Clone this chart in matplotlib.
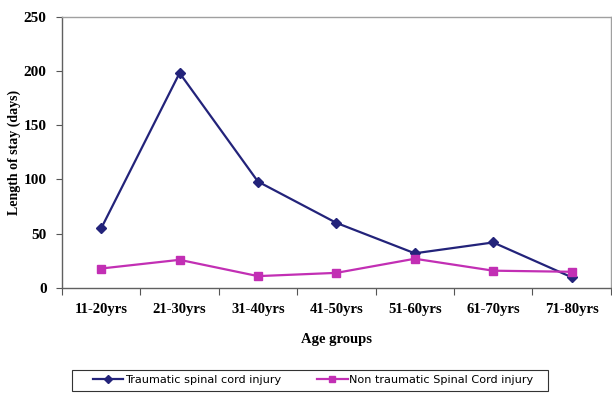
import matplotlib
matplotlib.use("Agg")
import matplotlib.pyplot as plt
from matplotlib.patches import Rectangle

AGE_GROUPS = ["11-20yrs", "21-30yrs", "31-40yrs", "41-50yrs",
              "51-60yrs", "61-70yrs", "71-80yrs"]
TRAUMATIC = [55, 198, 98, 60, 32, 42, 10]
NON_TRAUMATIC = [18, 26, 11, 14, 27, 16, 15]
Y_TICKS = [0, 50, 100, 150, 200, 250]

NAVY = "#23237a"
MAGENTA = "#c22fb4"
SERIF = "Liberation Serif"
SANS = "DejaVu Sans"

fig = plt.figure(figsize=(6.12, 3.93), dpi=100)
ax = fig.add_axes([0.1013, 0.267, 0.8967, 0.691])

x = list(range(len(AGE_GROUPS)))
ax.plot(x, TRAUMATIC, color=NAVY, lw=1.6, marker="D", ms=5,
        label="Traumatic spinal cord injury", zorder=3)
ax.plot(x, NON_TRAUMATIC, color=MAGENTA, lw=1.6, marker="s", ms=6,
        label="Non traumatic Spinal Cord injury", zorder=3)

ax.set_xlim(-0.5, len(AGE_GROUPS) - 0.5)
ax.set_ylim(0, 250)
ax.set_yticks(Y_TICKS)
ax.set_yticklabels([str(v) for v in Y_TICKS], fontfamily=SERIF,
                   fontweight="bold", fontsize=11)

# category labels sit between the boundary tick marks
ax.set_xticks([i - 0.5 for i in range(len(AGE_GROUPS) + 1)])
ax.set_xticklabels([])
ax.set_xticks(x, minor=True)
ax.set_xticklabels(AGE_GROUPS, minor=True, fontfamily=SERIF,
                   fontweight="bold", fontsize=10.5)
ax.tick_params(axis="x", which="minor", length=0, pad=11)
ax.tick_params(axis="x", which="major", length=5, width=0.8,
               direction="out", color="#555555")
ax.tick_params(axis="y", length=4, width=0.8, direction="out",
               color="#555555", pad=7)

for s in ("left", "bottom"):
    ax.spines[s].set_color("#606060")
    ax.spines[s].set_linewidth(1.0)
for s in ("top", "right"):
    ax.spines[s].set_color("#a0a0a0")
    ax.spines[s].set_linewidth(1.0)

ax.set_xlabel("Age groups", fontfamily=SERIF, fontweight="bold",
              fontsize=10.5, labelpad=12)
ax.set_ylabel("Length of stay (days)", fontfamily=SERIF, fontweight="bold",
              fontsize=10, labelpad=2)

# legend frame drawn separately so its side padding can be wider than
# its top/bottom padding
fig.patches.append(Rectangle((0.1176, 0.006), 0.778, 0.053,
                             transform=fig.transFigure, fill=False,
                             edgecolor="#333333", lw=0.8))
fig.legend(loc="center left", bbox_to_anchor=(0.152, 0.032), ncol=2,
           prop={"family": SANS, "size": 8.1}, frameon=False,
           handlelength=2.7, handletextpad=0.15, columnspacing=3.2,
           borderpad=0, borderaxespad=0, markerscale=0.8)

fig.savefig("out.png", dpi=100)
